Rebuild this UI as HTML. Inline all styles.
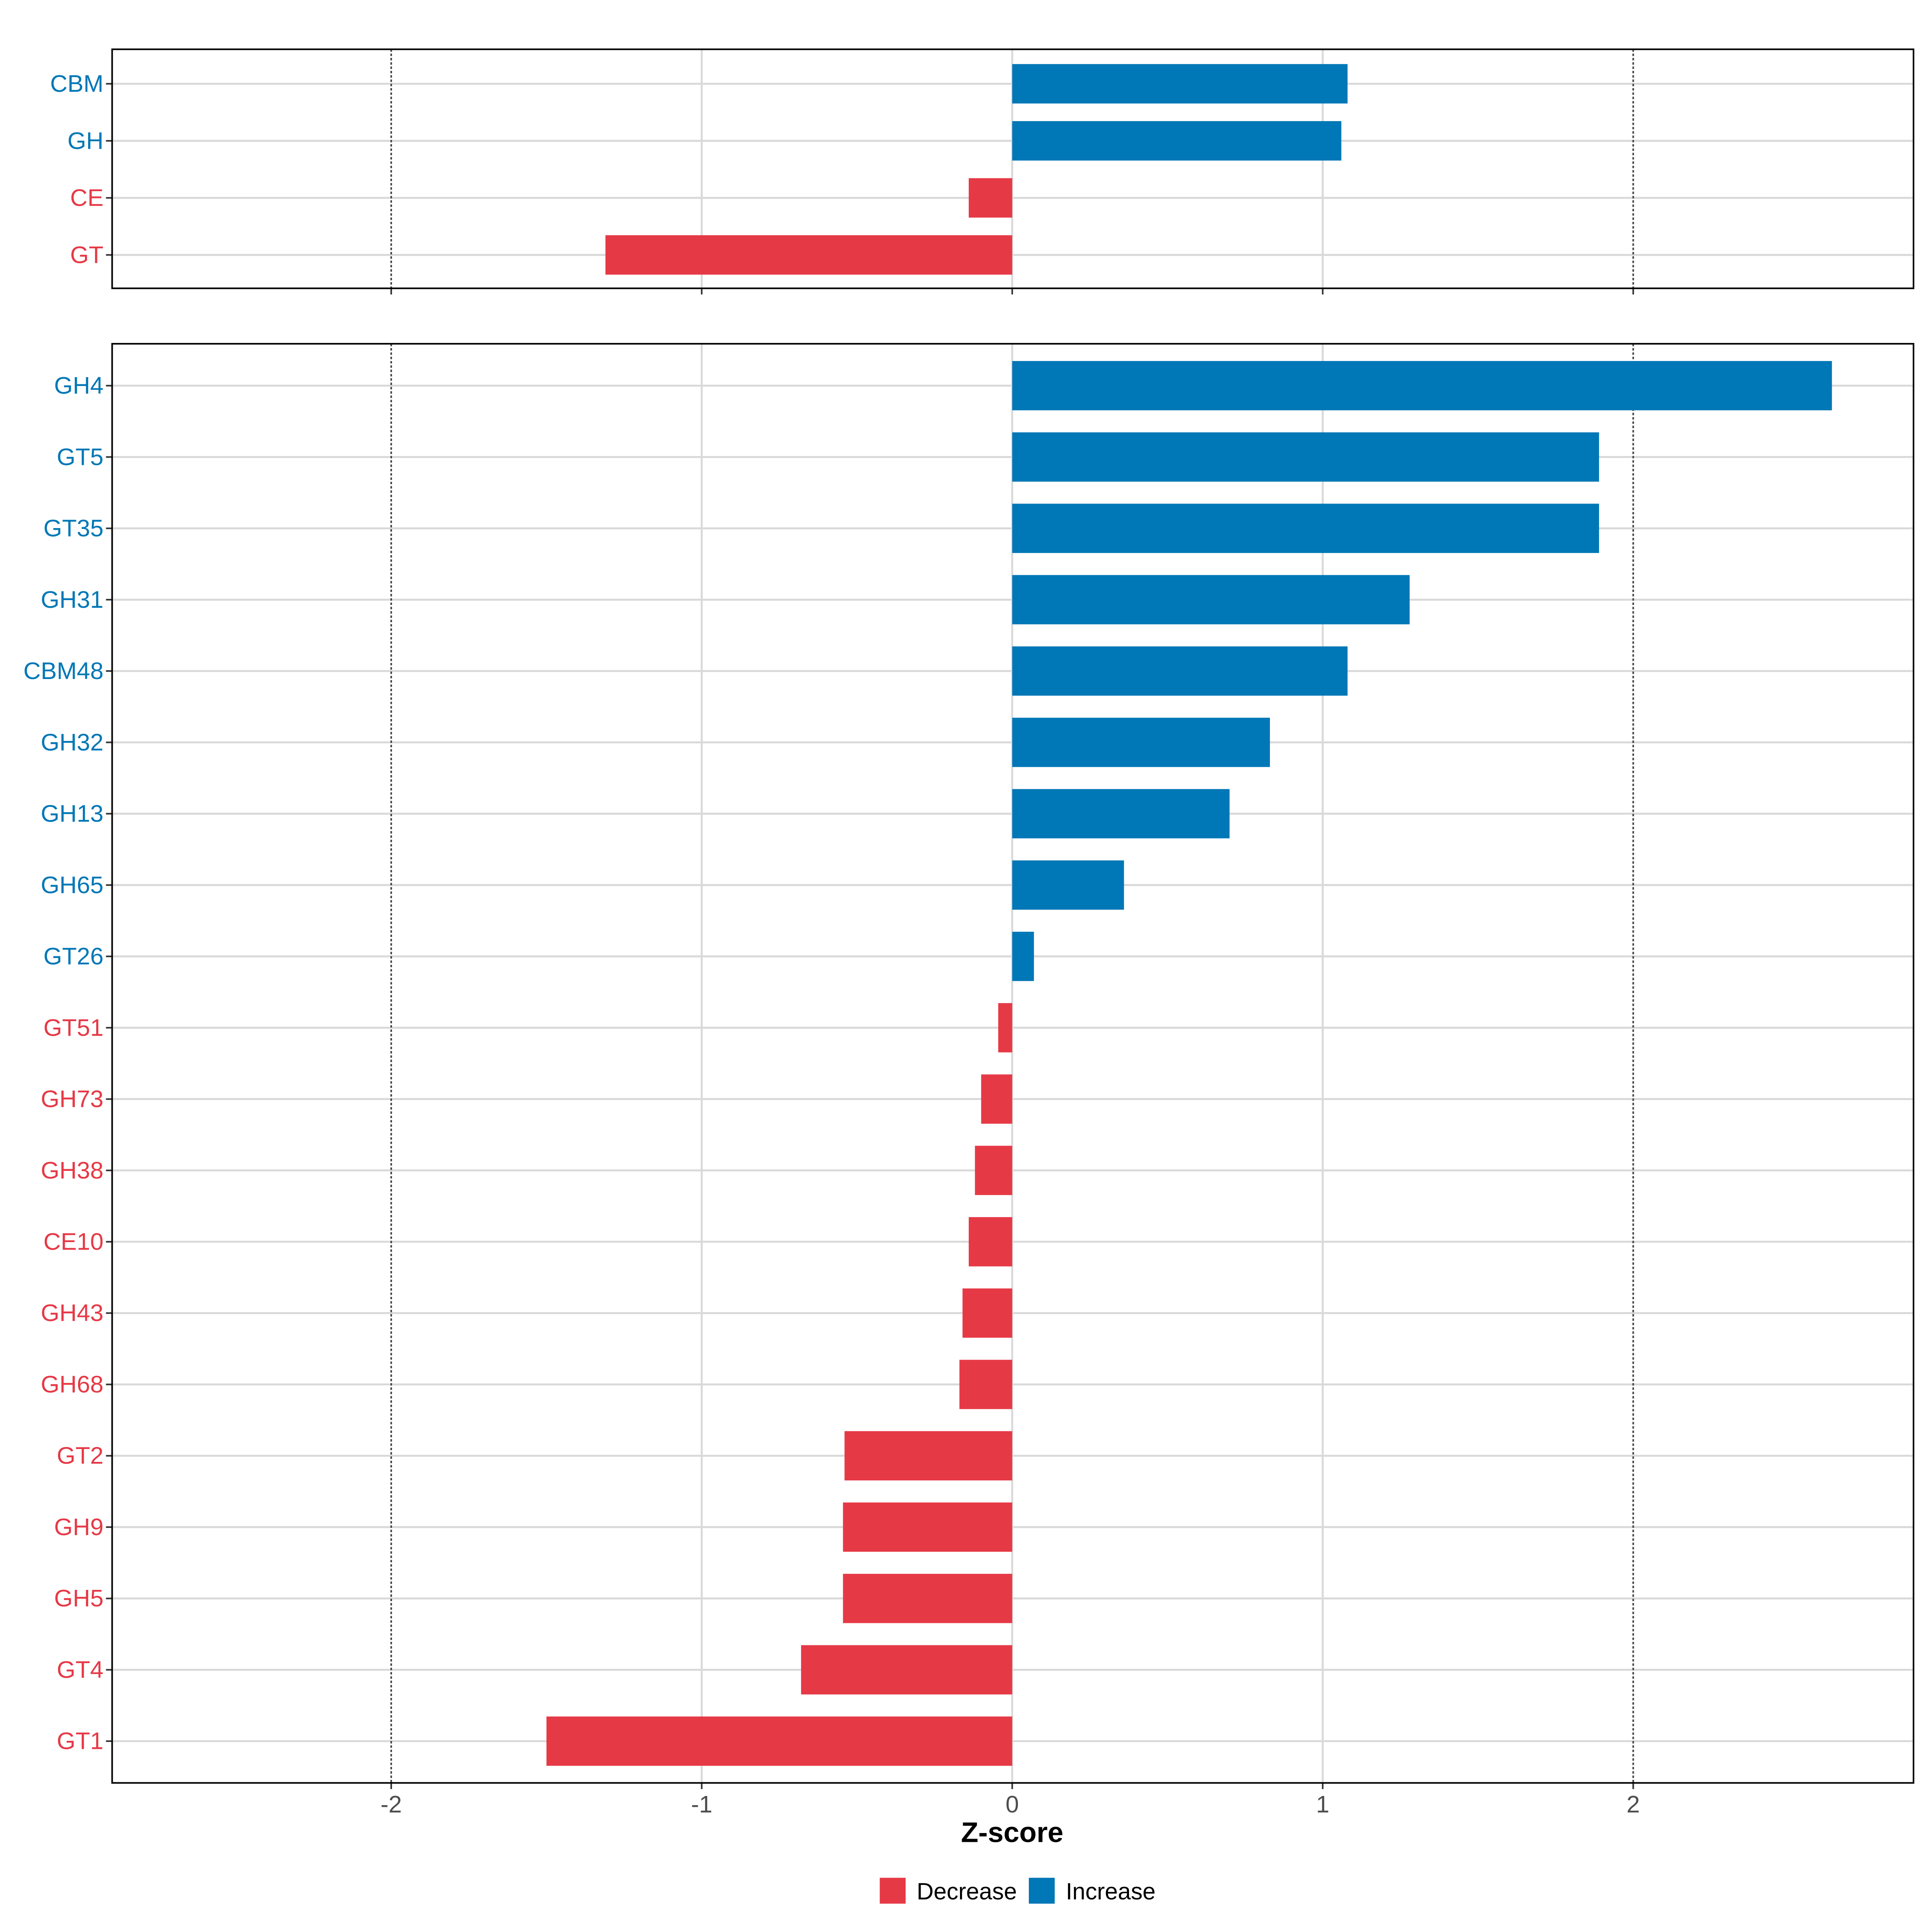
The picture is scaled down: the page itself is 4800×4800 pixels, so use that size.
<!DOCTYPE html>
<html><head><meta charset="utf-8"><style>html,body{margin:0;padding:0;background:#fff}svg{display:block}</style></head>
<body>
<svg id="chart" xmlns="http://www.w3.org/2000/svg" width="4800" height="4800" viewBox="0 0 1568 1568" font-family="Liberation Sans, Arial, sans-serif"></svg>
<script>
const topCategories = ["CBM","GH","CE","GT"];
const topValues = [1.08,1.06,-0.14,-1.31];
const bottomCategories = ["GH4","GT5","GT35","GH31","CBM48","GH32","GH13","GH65","GT26","GT51","GH73","GH38","CE10","GH43","GH68","GT2","GH9","GH5","GT4","GT1"];
const bottomValues = [2.64,1.89,1.89,1.28,1.08,0.83,0.70,0.36,0.07,-0.045,-0.10,-0.12,-0.14,-0.16,-0.17,-0.54,-0.545,-0.545,-0.68,-1.50];
const xTicks = [-2,-1,0,1,2];
const xTickLabels = ["-2","-1","0","1","2"];

const NS="http://www.w3.org/2000/svg";
const svg=document.getElementById('chart');
const BLUE="#0077b6", RED="#e63946";
const X0=91, X1=1553;
function xs(v){return 821.5+v*252;}
function mk(tag,attrs,parent){const e=document.createElementNS(NS,tag);for(const k in attrs)e.setAttribute(k,attrs[k]);(parent||svg).appendChild(e);return e;}

function panel(name,cats,vals,y0,y1,firstY,step,barH,showLabels){
  const g=mk('g',{});
  
  
  cats.forEach((c,i)=>{const y=firstY+i*step;
    const l=mk('line',{x1:X0,x2:X1,y1:y,y2:y,stroke:"#d9d9d9","stroke-width":1.6},g);
    
    
  });
  xTicks.forEach(t=>{const x=xs(t);
    const dotted=Math.abs(t)===2;
    const l=mk('line',{x1:x,x2:x,y1:y0,y2:y1,stroke:dotted?"#444":"#d9d9d9","stroke-width":dotted?1.3:1.6,"stroke-dasharray":dotted?"2,1.5":"none"},g);
    
    
  });
  cats.forEach((c,i)=>{const y=firstY+i*step;const v=vals[i];
    const xa=Math.min(xs(0),xs(v)), w=Math.abs(xs(v)-xs(0));
    const r=mk('rect',{x:xa,y:y-barH/2,width:w,height:barH,fill:v>=0?BLUE:RED},g);
    
    
    const tk=mk('line',{x1:X0-5,x2:X0,y1:y,y2:y,stroke:"#333","stroke-width":1.3},g);
    
    
    const t=mk('text',{x:X0-7,y:y+6.5,"text-anchor":"end","font-size":19.5,fill:v>=0?BLUE:RED},g);
    t.textContent=c;
    
    
  });
  xTicks.forEach((tv,i)=>{const x=xs(tv);
    const tk=mk('line',{x1:x,x2:x,y1:y1,y2:y1+5,stroke:"#333","stroke-width":1.3},g);
    
    
    if(showLabels){const t=mk('text',{x:x,y:y1+24,"text-anchor":"middle","font-size":19.5,fill:"#4d4d4d"},g);
      t.textContent=xTickLabels[i];
      
      }
  });
  const b=mk('rect',{x:X0,y:y0,width:X1-X0,height:y1-y0,fill:"none",stroke:"#000","stroke-width":1.3},g);
  
  
}
panel('top-panel',topCategories,topValues,40,234,68,46.3,32,false);
panel('bottom-panel',bottomCategories,bottomValues,279,1447,313,57.9,40,true);

const xt=mk('text',{x:821.5,y:1495,"text-anchor":"middle","font-size":23,"font-weight":"bold",fill:"#000"});
xt.textContent="Z-score";



const lg=mk('g',{});


[["Decrease",RED,714],["Increase",BLUE,835]].forEach(([lab,col,x])=>{
  const r=mk('rect',{x:x,y:1524,width:21,height:21,fill:col},lg);
  
  
  const t=mk('text',{x:x+30,y:1541.5,"font-size":19,fill:"#000"},lg);
  t.textContent=lab;
  
  
});
</script>
</body></html>
